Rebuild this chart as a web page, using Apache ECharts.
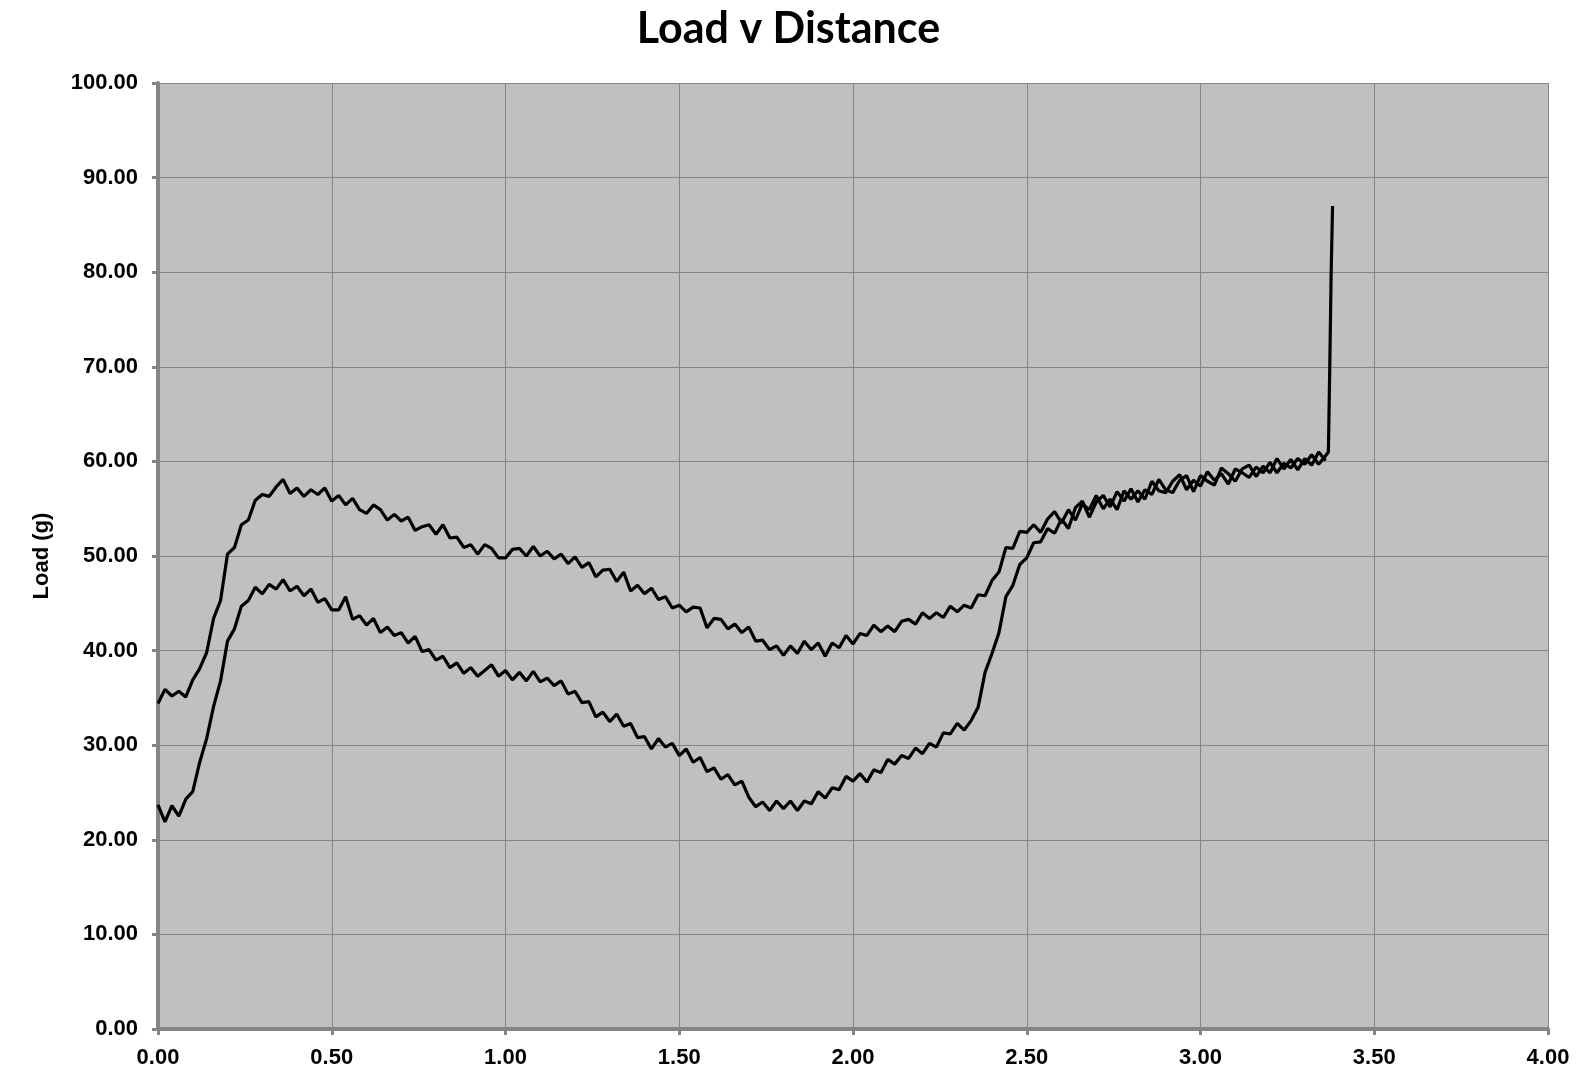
<!DOCTYPE html>
<html>
<head>
<meta charset="utf-8">
<script src="https://cdn.jsdelivr.net/npm/echarts@6/dist/echarts.min.js"></script>
<style>html,body{margin:0;padding:0;background:#fff}#c{width:1577px;height:1076px}</style>
</head>
<body>
<div id="c"></div>
<script>
const chartTitle = 'Load v Distance';
const yAxisName = 'Load (g)';
const xTicks = [0, 0.5, 1, 1.5, 2, 2.5, 3, 3.5, 4];
const yTicks = [0, 10, 20, 30, 40, 50, 60, 70, 80, 90, 100];

const distance = [
  0.00, 0.02, 0.04, 0.06, 0.08, 0.10, 0.12, 0.14, 0.16, 0.18,
  0.20, 0.22, 0.24, 0.26, 0.28, 0.30, 0.32, 0.34, 0.36, 0.38,
  0.40, 0.42, 0.44, 0.46, 0.48, 0.50, 0.52, 0.54, 0.56, 0.58,
  0.60, 0.62, 0.64, 0.66, 0.68, 0.70, 0.72, 0.74, 0.76, 0.78,
  0.80, 0.82, 0.84, 0.86, 0.88, 0.90, 0.92, 0.94, 0.96, 0.98,
  1.00, 1.02, 1.04, 1.06, 1.08, 1.10, 1.12, 1.14, 1.16, 1.18,
  1.20, 1.22, 1.24, 1.26, 1.28, 1.30, 1.32, 1.34, 1.36, 1.38,
  1.40, 1.42, 1.44, 1.46, 1.48, 1.50, 1.52, 1.54, 1.56, 1.58,
  1.60, 1.62, 1.64, 1.66, 1.68, 1.70, 1.72, 1.74, 1.76, 1.78,
  1.80, 1.82, 1.84, 1.86, 1.88, 1.90, 1.92, 1.94, 1.96, 1.98,
  2.00, 2.02, 2.04, 2.06, 2.08, 2.10, 2.12, 2.14, 2.16, 2.18,
  2.20, 2.22, 2.24, 2.26, 2.28, 2.30, 2.32, 2.34, 2.36, 2.38,
  2.40, 2.42, 2.44, 2.46, 2.48, 2.50, 2.52, 2.54, 2.56, 2.58,
  2.60, 2.62, 2.64, 2.66, 2.68, 2.70, 2.72, 2.74, 2.76, 2.78,
  2.80, 2.82, 2.84, 2.86, 2.88, 2.90, 2.92, 2.94, 2.96, 2.98,
  3.00, 3.02, 3.04, 3.06, 3.08, 3.10, 3.12, 3.14, 3.16, 3.18,
  3.20, 3.22, 3.24, 3.26, 3.28, 3.30, 3.32, 3.34, 3.36
];

const upperLoad = [
  34.4, 35.9, 35.2, 35.7, 35.1, 36.9, 38.1, 39.8, 43.4, 45.3,
  50.2, 50.9, 53.3, 53.8, 55.9, 56.5, 56.3, 57.3, 58.1, 56.6,
  57.2, 56.3, 57.0, 56.5, 57.2, 55.8, 56.4, 55.4, 56.1, 54.9,
  54.5, 55.4, 54.9, 53.8, 54.4, 53.7, 54.1, 52.7, 53.1, 53.3,
  52.3, 53.3, 51.9, 52.0, 50.9, 51.2, 50.2, 51.2, 50.8, 49.8,
  49.8, 50.7, 50.8, 50.0, 51.0, 50.0, 50.5, 49.7, 50.2, 49.2,
  49.9, 48.8, 49.3, 47.8, 48.5, 48.6, 47.3, 48.3, 46.3, 46.9,
  46.0, 46.6, 45.4, 45.7, 44.5, 44.8, 44.1, 44.6, 44.5, 42.4,
  43.4, 43.3, 42.3, 42.8, 41.9, 42.5, 41.0, 41.1, 40.1, 40.5,
  39.5, 40.5, 39.7, 41.0, 40.1, 40.8, 39.4, 40.8, 40.3, 41.6,
  40.7, 41.8, 41.6, 42.7, 42.0, 42.6, 42.0, 43.1, 43.3, 42.8,
  44.0, 43.4, 44.0, 43.5, 44.7, 44.1, 44.8, 44.5, 45.9, 45.8,
  47.4, 48.3, 50.9, 50.8, 52.6, 52.5, 53.3, 52.5, 53.9, 54.7,
  53.5, 54.9, 53.8, 55.5, 54.9, 56.4, 55.0, 56.0, 54.9, 56.9,
  56.0, 56.9, 56.0, 57.9, 56.9, 56.7, 57.9, 58.6, 57.0, 58.0,
  57.4, 58.9, 58.0, 58.7, 57.6, 59.2, 58.8, 58.3, 59.4, 58.8,
  59.9, 58.8, 59.8, 59.3, 60.3, 59.7, 60.7, 59.7, 60.6
];

const lowerLoad = [
  23.7, 21.9, 23.6, 22.5, 24.3, 25.1, 28.2, 30.7, 34.1, 36.8,
  41.0, 42.3, 44.7, 45.3, 46.7, 46.0, 47.0, 46.5, 47.5, 46.3,
  46.8, 45.8, 46.5, 45.1, 45.5, 44.3, 44.3, 45.7, 43.3, 43.7,
  42.7, 43.4, 41.9, 42.5, 41.6, 41.9, 40.8, 41.5, 39.9, 40.1,
  39.0, 39.4, 38.2, 38.7, 37.6, 38.2, 37.3, 37.9, 38.5, 37.3,
  37.9, 36.9, 37.7, 36.8, 37.8, 36.7, 37.1, 36.3, 36.8, 35.4,
  35.7, 34.5, 34.6, 33.0, 33.5, 32.5, 33.3, 32.0, 32.3, 30.8,
  30.9, 29.6, 30.7, 29.8, 30.2, 28.9, 29.6, 28.2, 28.7, 27.2,
  27.6, 26.4, 26.9, 25.8, 26.2, 24.5, 23.5, 24.0, 23.1, 24.1,
  23.3, 24.1, 23.1, 24.1, 23.8, 25.1, 24.4, 25.5, 25.3, 26.7,
  26.2, 27.0, 26.1, 27.4, 27.1, 28.5, 28.0, 28.9, 28.6, 29.7,
  29.1, 30.2, 29.8, 31.3, 31.2, 32.3, 31.6, 32.6, 34.0, 37.7,
  39.7, 41.9, 45.7, 46.9, 49.1, 49.8, 51.4, 51.5, 52.9, 52.4,
  53.9, 52.9, 55.1, 55.8, 54.1, 55.7, 56.4, 55.2, 56.8, 55.8,
  57.1, 55.7, 57.0, 56.5, 58.1, 57.0, 56.7, 58.0, 58.5, 56.8,
  58.5, 57.9, 57.5, 59.3, 58.7, 57.9, 59.2, 59.6, 58.4, 59.5,
  58.8, 60.3, 59.2, 60.2, 59.1, 60.3, 59.6, 61.0, 60.1
];

// final rupture spike at end of upper trace
const spikeDistance = [3.368, 3.372, 3.376, 3.380];
const spikeLoad = [61.0, 70.0, 80.0, 87.0];

const upperData = distance.map((d, i) => [d, upperLoad[i]])
  .concat(spikeDistance.map((d, i) => [d, spikeLoad[i]]));
const lowerData = distance.map((d, i) => [d, lowerLoad[i]]);

const chart = echarts.init(document.getElementById('c'), null, {renderer: 'canvas'});
const axisGrey = '#858585';
const labelFont = {fontFamily: 'Liberation Sans, Arial, sans-serif', fontWeight: 'bold', fontSize: 22, color: '#000'};

chart.setOption({
  animation: false,
  backgroundColor: '#ffffff',
  title: {
    text: chartTitle,
    left: 'center',
    top: 3,
    textStyle: {fontFamily: 'Lato, "Open Sans", sans-serif', fontWeight: 'bold', fontSize: 43, color: '#000'}
  },
  grid: {
    left: 158, right: 29, top: 83, bottom: 47,
    show: true, backgroundColor: '#c0c0c0', borderWidth: 0
  },
  xAxis: {
    type: 'value', min: xTicks[0], max: xTicks[xTicks.length - 1], interval: 0.5,
    axisLine: {show: true, onZero: false, lineStyle: {color: axisGrey, width: 4}},
    axisTick: {show: true, length: 6, lineStyle: {color: axisGrey, width: 3}},
    splitLine: {show: true, lineStyle: {color: '#858585', width: 1}},
    axisLabel: Object.assign({margin: 18, formatter: v => v.toFixed(2)}, labelFont)
  },
  yAxis: {
    type: 'value', min: yTicks[0], max: yTicks[yTicks.length - 1], interval: 10,
    name: yAxisName, nameLocation: 'middle', nameGap: 105, nameRotate: 90,
    nameTextStyle: {fontFamily: 'Liberation Sans, Arial, sans-serif', fontWeight: 'bold', fontSize: 22, color: '#000'},
    axisLine: {show: true, onZero: false, lineStyle: {color: axisGrey, width: 4}},
    axisTick: {show: true, length: 6, lineStyle: {color: axisGrey, width: 3}},
    splitLine: {show: true, lineStyle: {color: '#858585', width: 1}},
    axisLabel: Object.assign({margin: 20, formatter: v => v.toFixed(2)}, labelFont)
  },
  series: [
    {
      name: 'Lower', type: 'line', data: lowerData, showSymbol: false, symbol: 'none',
      lineStyle: {color: '#000', width: 3.2}, sampling: null, z: 3
    },
    {
      name: 'Upper', type: 'line', data: upperData, showSymbol: false, symbol: 'none',
      lineStyle: {color: '#000', width: 3.2}, sampling: null, z: 3
    }
  ]
});
</script>
</body>
</html>
